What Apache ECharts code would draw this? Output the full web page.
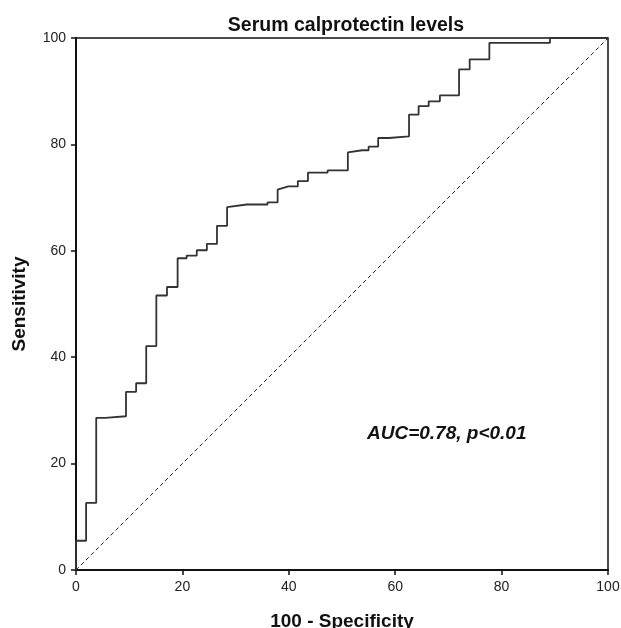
<!DOCTYPE html>
<html><head><meta charset="utf-8">
<script src="https://cdn.jsdelivr.net/npm/echarts@6/dist/echarts.min.js"></script>
<style>html,body{margin:0;padding:0;background:#fff}#c{width:621px;height:628px}</style>
</head><body><div id="c"></div>
<script>
const titleText = "Serum calprotectin levels";
const xName = "100 - Specificity";
const yName = "Sensitivity";
const annotation = "AUC=0.78, p<0.01";
const axisTicks = [0, 20, 40, 60, 80, 100];
// ROC curve vertices (100 - specificity, sensitivity)
const rocX = [0,0,1.9,1.9,3.8,3.8,5.5,5.5,9.4,9.4,11.3,11.3,13.2,13.2,15.1,15.1,17.1,17.1,19.1,19.1,20.8,20.8,22.7,22.7,24.6,24.6,26.5,26.5,28.4,28.4,32.1,36.0,36.0,37.9,37.9,39.9,41.7,41.7,43.6,43.6,47.3,47.3,51.1,51.1,53.8,55.0,55.0,56.8,56.8,58.8,58.8,62.6,62.6,64.4,64.4,66.3,66.3,68.4,68.4,72.0,72.0,74.0,74.0,77.7,77.7,89.1,89.1,100];
const rocY = [0,5.5,5.5,12.6,12.6,28.6,28.6,28.9,28.9,33.5,33.5,35.1,35.1,42.1,42.1,51.6,51.6,53.2,53.2,58.6,58.6,59.1,59.1,60.1,60.1,61.3,61.3,64.7,64.7,68.2,68.7,68.7,69.1,69.1,71.5,72.1,72.1,73.1,73.1,74.7,74.7,75.1,75.1,78.5,78.9,78.9,79.6,79.6,81.2,81.2,81.5,81.5,85.6,85.6,87.2,87.2,88.1,88.1,89.2,89.2,94.1,94.1,96.0,96.0,99.1,99.1,100,100];
const refX = [0, 100];
const refY = [0, 100];

const chart = echarts.init(document.getElementById('c'), null, {renderer:'canvas'});
const font = "'Liberation Sans', Arial, sans-serif";
chart.setOption({
  animation:false,
  backgroundColor:'#fff',
  title:{text:titleText, left:341, top:11, textAlign:'center',
    textStyle:{fontFamily:font, fontSize:19.5, fontWeight:'bold', color:'#111'}},
  grid:{left:76, right:13, top:38, bottom:58, show:true, borderColor:'#111', borderWidth:1.5,
    containLabel:false, outerBoundsMode:'none'},
  xAxis:{type:'value', min:axisTicks[0], max:axisTicks[axisTicks.length-1], interval:20,
    name:xName, nameLocation:'middle', nameGap:42,
    nameTextStyle:{fontFamily:font, fontSize:19, fontWeight:'bold', color:'#111'},
    axisLine:{show:true, lineStyle:{color:'#111', width:2}},
    axisTick:{show:true, length:5, lineStyle:{color:'#111', width:1.5}},
    axisLabel:{fontFamily:font, fontSize:14, color:'#222', margin:10},
    splitLine:{show:false}},
  yAxis:{type:'value', min:axisTicks[0], max:axisTicks[axisTicks.length-1], interval:20,
    name:yName, nameLocation:'middle', nameGap:47, nameRotate:90,
    nameTextStyle:{fontFamily:font, fontSize:19, fontWeight:'bold', color:'#111'},
    axisLine:{show:true, lineStyle:{color:'#111', width:2}},
    axisTick:{show:true, length:5, lineStyle:{color:'#111', width:1.5}},
    axisLabel:{fontFamily:font, fontSize:14, color:'#222', margin:10},
    splitLine:{show:false}},
  series:[
    {type:'line', data:refX.map((x,i)=>[x,refY[i]]), symbol:'none', silent:true,
      lineStyle:{color:'#222', width:1, type:[4,3]}},
    {type:'line', data:rocX.map((x,i)=>[x,rocY[i]]), symbol:'none', silent:true,
      lineStyle:{color:'#333', width:1.8}}
  ],
  graphic:[{type:'text', left:367, top:424,
    style:{text:annotation, font:"italic bold 19px 'Liberation Sans', Arial, sans-serif", fill:'#111'}}]
});
</script></body></html>
